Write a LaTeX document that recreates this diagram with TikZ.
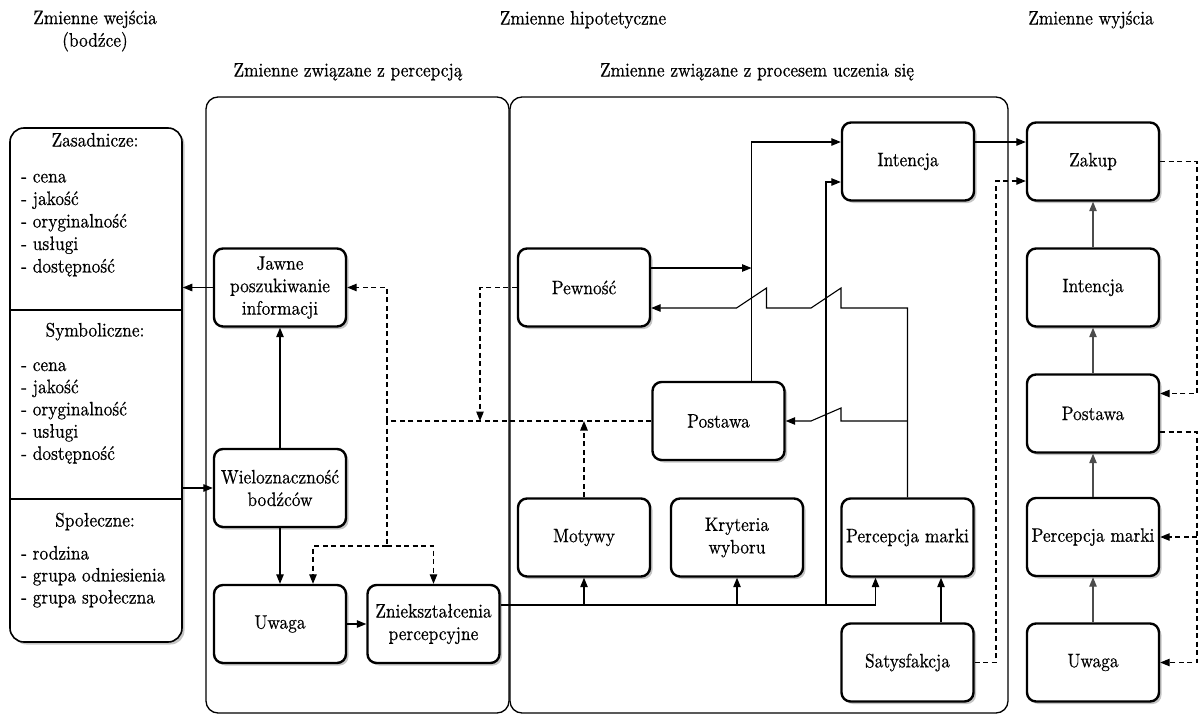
\documentclass[tikz,border=0pt]{standalone}
\usepackage{fontspec}
\setmainfont{lmroman10-regular.otf}[FakeStretch=0.89, FakeBold=0.5]
\usetikzlibrary{arrows.meta,calc,shadows}

\begin{document}
\begin{tikzpicture}[x=1pt,y=-1pt,
  font=\fontsize{19.5}{22.5}\selectfont,
  shade/.style={drop shadow={shadow xshift=2.5pt, shadow yshift=-2.5pt, fill=black!45, opacity=0.5}},
  box/.style={draw, line width=2.4pt, rounded corners=9pt, minimum width=132pt,
    minimum height=78pt, align=center, inner sep=3pt, fill=white, shade},
  ttl/.style={inner sep=0pt, text height=13pt, text depth=4pt, align=center},
  link/.style={line width=1.1pt},
  conn/.style={link, -{Triangle[length=9.5pt,width=7.5pt]}},
  gconn/.style={conn, draw=black!70},
  dlink/.style={line width=1.1pt, dash pattern=on 5pt off 3.5pt},
  dconn/.style={dlink, -{Triangle[length=9.5pt,width=7.5pt]}},
  panel/.style={draw, line width=1.3pt, rounded corners=12pt}
]
\useasboundingbox (0,0) rectangle (1199,715);

% column and group titles
\node[align=center, inner sep=0pt] (tin) at (95,31) {Zmienne wejścia\\(bodźce)};
\node[ttl] (thyp) at (583,20) {Zmienne hipotetyczne};
\node[ttl] (tout) at (1091,20) {Zmienne wyjścia};
\node[ttl] (tperc) at (348,72) {Zmienne związane z percepcją};
\node[ttl] (tlearn) at (757,72) {Zmienne związane z procesem uczenia się};

% the two panels of hypothetical variables
\draw[panel] (206,97) rectangle (509,713);
\draw[panel] (510,97) rectangle (1008,713);

% stimuli box with its three sections
\node[draw, line width=1.6pt, rounded corners=14pt, minimum width=172pt,
  minimum height=514pt, inner sep=0pt, fill=white, shade] (inputs) at (96,385) {};
\coordinate (s1) at (0,310);
\coordinate (s2) at (0,499);
\draw[line width=1.3pt] (inputs.west |- s1) -- (inputs.east |- s1);
\draw[line width=1.3pt] (inputs.west |- s2) -- (inputs.east |- s2);

\node[ttl] (hz) at (95,142) {Zasadnicze:};
\foreach \t [count=\i] in {- cena, - jakość, - oryginalność, - usługi, - dostępność}
  \node[ttl, anchor=west] (za\i) at (21,{178+22.5*(\i-1)}) {\t};
\node[ttl] (hs) at (95,332) {Symboliczne:};
\foreach \t [count=\i] in {- cena, - jakość, - oryginalność, - usługi, - dostępność}
  \node[ttl, anchor=west] (sy\i) at (21,{366.5+22.2*(\i-1)}) {\t};
\node[ttl] (hp) at (95,522) {Społeczne:};
\foreach \t [count=\i] in {- rodzina, - grupa odniesienia, - grupa społeczna}
  \node[ttl, anchor=west] (sp\i) at (21,{555+22*(\i-1)}) {\t};

% perception variables
\node[box] (jawne) at (280,287.5) {Jawne\\poszukiwanie\\informacji};
\node[box] (wiel) at (280,488) {Wieloznaczność\\bodźców};
\node[box] (uwaga) at (280,624) {Uwaga};
\node[box] (znie) at (433.5,624) {Zniekształcenia\\percepcyjne};

% learning variables
\node[box] (pewnosc) at (584,287.5) {Pewność};
\node[box] (intencja) at (908,161.5) {Intencja};
\node[box] (postawa) at (718.5,421) {Postawa};
\node[box] (motywy) at (584,537.5) {Motywy};
\node[box] (kryt) at (737,537.5) {Kryteria\\wyboru};
\node[box] (percm) at (907.5,537.5) {Percepcja marki};
\node[box] (satys) at (907.5,662.5) {Satysfakcja};

% output variables
\node[box] (zakup) at (1093,161.5) {Zakup};
\node[box] (intR) at (1093,287.5) {Intencja};
\node[box] (postR) at (1093,413.5) {Postawa};
\node[box] (percR) at (1093,537) {Percepcja marki};
\node[box] (uwagaR) at (1093,662.5) {Uwaga};

% perception flows
\draw[conn] (jawne.west) -- (jawne.west -| inputs.east);
\draw[conn] (wiel.west -| inputs.east) -- (wiel.west);
\draw[conn] (wiel.north) -- (jawne.south);
\draw[conn] (wiel.south) -- (uwaga.north);
\draw[conn] (uwaga.east) -- (znie.west);

% dashed feedback from attitude
\coordinate (dv) at (387,546);
\coordinate (dt) at (postawa.west -| dv);
\draw[dlink] (postawa.west) -- (dt) -- (dv);
\draw[dconn] (dt) |- (jawne.east);
\draw[dconn] (dv) -| ([xshift=33pt]uwaga.north);
\draw[dconn] (dv) -| (znie.north);
\coordinate (pj) at (480,421);
\draw[dconn] (pewnosc.west) -| (pj);
\draw[dconn] (motywy.north) -- (motywy.north |- postawa.west);

% distortion bus feeding the learning variables
\coordinate (bus) at ([yshift=19pt]znie.east);
\coordinate (vx) at (826,0);
\draw[conn] (bus) -| ([xshift=-32pt]percm.south);
\draw[conn] (motywy.south |- bus) -- (motywy.south);
\draw[conn] (kryt.south |- bus) -- (kryt.south);
\draw[conn] (vx |- bus) |- ([yshift=-20.5pt]intencja.west);

% attitude and confidence towards intention
\coordinate (pv) at ([xshift=33pt]postawa.north);
\coordinate (pe) at ([yshift=19.5pt]pewnosc.east);
\coordinate (pl) at ([yshift=-20.5pt]pewnosc.east);
\draw[conn] (pv) |- ([yshift=19.5pt]intencja.west);
\draw[conn] (pe) -- (pe -| pv);

% brand perception back to confidence and attitude, with line jumps
\draw[conn] (percm.north) |- ($(vx |- pl)+(15,0)$) -- ++(0,-20) -- ++(-30,20)
  -- ($(pv |- pl)+(15,0)$) -- ++(0,-20) -- ++(-30,20) -- (pl);
\draw[conn] (percm.north |- postawa.east) -- ($(vx |- postawa.east)+(15,0)$)
  -- ++(0,-13) -- ++(-30,13) -- (postawa.east);
\draw[conn] ([xshift=33.5pt]satys.north) -- ([xshift=33.5pt]percm.south);

% towards the outputs
\draw[conn] ([yshift=19.5pt]intencja.east) -- ([yshift=19.5pt]zakup.west);
\coordinate (sx) at (996,0);
\draw[dconn] (satys.east) -- (satys.east -| sx) |- ([yshift=-19.5pt]zakup.west);

% output chain
\draw[gconn] (uwagaR.north) -- (percR.south);
\draw[gconn] (percR.north) -- (postR.south);
\draw[gconn] (postR.north) -- (intR.south);
\draw[gconn] (intR.north) -- (zakup.south);

% output feedback loops
\coordinate (rx) at (1197,0);
\draw[dconn] (zakup.east) -- (zakup.east -| rx) |- ([yshift=20pt]postR.east);
\coordinate (pr) at ([yshift=-18.5pt]postR.east);
\draw[dconn] (pr) -- (pr -| rx) |- (uwagaR.east);
\draw[dconn] (rx |- percR.east) -- (percR.east);
\end{tikzpicture}
\end{document}
